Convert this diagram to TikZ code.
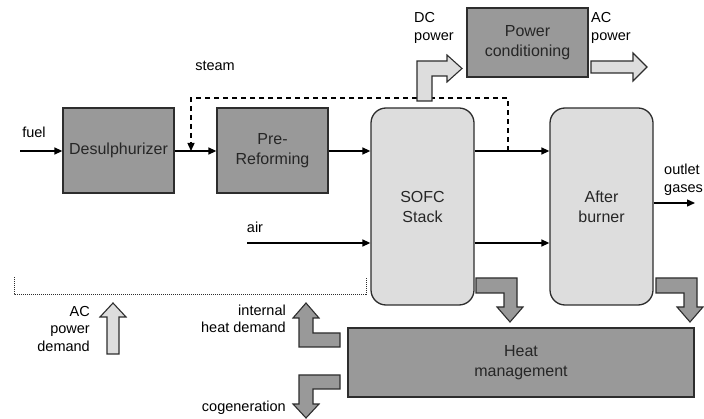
\documentclass[tikz,border=0pt]{standalone}
\usepackage{fontspec}
\setmainfont{Liberation Sans}
\usetikzlibrary{arrows.meta,positioning,calc}
\definecolor{unitgray}{RGB}{153,153,153}
\definecolor{stackgray}{RGB}{221,221,221}
\definecolor{edgegray}{RGB}{45,45,45}

\begin{document}
\begin{tikzpicture}[x=1pt, y=-1pt,
    unit/.style={rectangle, draw=edgegray, line width=1.3pt, fill=unitgray, inner sep=0pt, align=center, font=\fontsize{16}{20}\selectfont, text=black!85},
    stack/.style={unit, fill=stackgray, rounded corners=15pt, minimum width=103pt, minimum height=197pt},
    flow/.style={line width=1.4pt, -{Triangle[length=8pt,width=7pt]}},
    lab/.style={font=\fontsize{14.5}{17.5}\selectfont, inner sep=0pt},
    heatarrow/.style={draw=edgegray, line width=1.1pt, fill=unitgray, line join=miter},
    powerarrow/.style={heatarrow, fill=stackgray}
]
\useasboundingbox (0,0) rectangle (704,419);

% Process units
\node[unit, minimum width=111pt, minimum height=85pt] (desul) at (118.5,150.5) {Desulphurizer};
\node[unit, minimum width=111pt, minimum height=85pt] (prer) at (272.5,150.5) {Pre-\\Reforming};
\node[stack] (sofc) at (422.5,206.5) {SOFC\\Stack};
\node[stack] (after) at (601.5,206.5) {After\\burner};
\node[unit, minimum width=121pt, minimum height=69pt] (pc) at (527.5,42.5) {Power\\conditioning};
\node[unit, minimum width=346pt, minimum height=69pt] (heat) at (521,362.5) {Heat\\management};

% Gas flows
\coordinate (fuelin) at (20,151);
\coordinate (airin) at (247,243);
\coordinate (outlet) at (695,203);
\coordinate (steamin) at (191,151);
\coordinate (steamtap) at (508,151);
\draw[flow] (fuelin) -- (fuelin -| desul.west);
\draw[flow] (desul.east |- fuelin) -- (prer.west |- fuelin);
\draw[flow] (prer.east |- fuelin) -- (sofc.west |- fuelin);
\draw[flow] (sofc.east |- fuelin) -- (after.west |- fuelin);
\draw[flow] (airin) -- (airin -| sofc.west);
\draw[flow] (sofc.east |- airin) -- (after.west |- airin);
\draw[flow] (after.east |- outlet) -- (outlet);
\draw[flow, dash pattern=on 5pt off 4pt] (steamtap) -- ++(0,-53) -| (steamin);

% Flow labels
\node[lab] (fuel) at (34,132) {fuel};
\node[lab] (steam) at (215,66) {steam};
\node[lab] (air) at (255,227) {air};
\node[lab, anchor=west, align=left] (outgas) at (664,180) {outlet\\gases};
\node[lab, anchor=west, align=left] (dcp) at (414,28) {DC\\power};
\node[lab, anchor=west, align=left] (acp) at (591,28) {AC\\power};
\node[lab, anchor=east, align=right] (acd) at (90,329) {AC\\power\\demand};
\node[lab, anchor=east, align=right] (ihd) at (286,319) {internal\\heat demand};
\node[lab, anchor=east] (cogen) at (286,408) {cogeneration};

% Power block arrows
\draw[powerarrow] (417,101) -- (417,61) -- (447,61) -- (447,55) -- (462,68.5) -- (447,82) -- (447,76) -- (432,76) -- (432,101) -- cycle;
\draw[powerarrow] (591,61) -- (633,61) -- (633,53) -- (647,67) -- (633,81) -- (633,73) -- (591,73) -- cycle;
\draw[powerarrow] (107,354) -- (107,317) -- (100,317) -- (113,303) -- (126,317) -- (119,317) -- (119,354) -- cycle;

% Heat block arrows
\draw[heatarrow] (476,278) -- (517,278) -- (517,307) -- (523,307) -- (510,322) -- (497,307) -- (504,307) -- (504,293) -- (476,293) -- cycle;
\draw[heatarrow] (656,278) -- (697,278) -- (697,307) -- (703,307) -- (690,322) -- (677,307) -- (684,307) -- (684,293) -- (656,293) -- cycle;
\draw[heatarrow] (340,333) -- (313,333) -- (313,318) -- (319,318) -- (306,303) -- (293,318) -- (299,318) -- (299,347) -- (340,347) -- cycle;
\draw[heatarrow] (340,375) -- (299,375) -- (299,404) -- (293,404) -- (306,418) -- (319,404) -- (313,404) -- (313,389) -- (340,389) -- cycle;

% Plant boundary
\draw[edgegray, line width=0.6pt, dash pattern=on 1pt off 1pt] (14,277) -- (14,294) -- (366,294) -- (366,277);

\end{tikzpicture}
\end{document}
